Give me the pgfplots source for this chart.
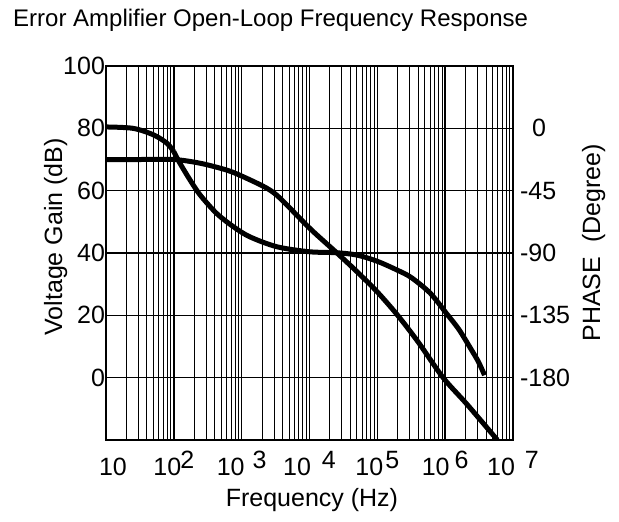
\documentclass[border=0pt]{standalone}
\usepackage{pgfplots}
\pgfplotsset{compat=1.18}
\usepackage{pgfplotstable}
\usepackage{fontspec}
\setmainfont{Liberation Sans}

% gain in dB
\pgfplotstableread{
f       g
10      70
31.6    70
100     70
245     68.8
603     66.6
1047    64.5
2344    60.8
3715    57.5
10233   47.8
25119   40.1
50119   34
100000  27.5
199526  20
398107  11.5
933254  0
2089296 -8.5
5888437 -20
}\gaintable

% phase in degrees, two pieces (kink near 100 Hz)
\pgfplotstableread{
f     p
10    1
25.1  0
50.1  -4.7
79.4  -10.8
100   -16.9
}\phaseA

\pgfplotstableread{
f       p
100     -16.9
123     -25.2
174     -37.4
245     -48.2
427     -61.4
759     -71.1
1318    -78.3
3311    -85.5
10000   -89.1
25119   -89.8
50119   -91.5
100000  -96
199526  -102.5
316228  -107.7
602560  -119
1047129 -133.7
1584893 -145
2344229 -158.5
3090295 -168.5
3801894 -178.2
}\phaseB

\newcommand\ex[2]{10\hspace{#1}\raisebox{3.5pt}{#2}}

\begin{document}
\begin{tikzpicture}
\pgfplotsset{
  every axis/.append style={
    width=203.5pt, height=187pt, scale only axis,
    at={(0,0)}, anchor=south west,
    xmode=log, xmin=10, xmax=1e7,
    major tick length=0pt, minor tick length=0pt,
    tick label style={font=\fontsize{12.5}{12.5}\selectfont},
    label style={font=\fontsize{12.5}{12.5}\selectfont, inner sep=0pt},
  },
}
\begin{axis}[
  name=main,
  ymin=-20, ymax=100,
  xtick={10,100,1000,10000,100000,1000000,10000000},
  xticklabels={\hspace*{7pt}10,\ex{-0.5pt}{2},\ex{4pt}{3},\ex{5.5pt}{4},\ex{1pt}{5},\ex{2.5pt}{6},\ex{5pt}{7}},
  minor xtick={20,30,40,50,60,70,80,90,
    200,300,400,500,600,700,800,900,
    2000,3000,4000,5000,6000,7000,8000,9000,
    20000,30000,40000,50000,60000,70000,80000,90000,
    200000,300000,400000,500000,600000,700000,800000,900000,
    2000000,3000000,4000000,5000000,6000000,7000000,8000000,9000000},
  ytick={0,20,40,60,80,100},
  yticklabels={0,20,40,60,80,100},
  xticklabel style={anchor=base, yshift=-17.5pt},
  yticklabel style={xshift=3pt},
  xmajorgrids, xminorgrids, ymajorgrids,
  major grid style={black, line width=0.75pt},
  minor grid style={black, line width=0.5pt},
  axis line style={black, line width=0.6pt},
  title={Error Amplifier Open-Loop Frequency Response},
  title style={font=\fontsize{12}{12}\selectfont, inner sep=0pt, yshift=-6pt,
    anchor=base west, at={(axis description cs:-0.229,1.105)}},
  xlabel={Frequency (Hz)},
  xlabel style={anchor=base, at={(axis description cs:0.506,-0.178)}},
  ylabel={Voltage Gain (dB)},
  ylabel style={anchor=base, at={(axis description cs:-0.108,0.543)}},
]
\addplot[black, line width=2.5pt, smooth] table[x=f, y=g] {\gaintable};
\end{axis}
\begin{axis}[
  axis x line=none, axis y line*=right,
  ymin=-225, ymax=45,
  ytick={-180,-135,-90,-45,0},
  yticklabels={-180,-135,-90,-45,\hspace*{6pt}0},
  axis line style={black, line width=0.6pt},
  ylabel={PHASE\ \ (Degree)},
  ylabel style={anchor=base, at={(axis description cs:1.214,0.527)}},
]
\addplot[black, line width=2.5pt, smooth] table[x=f, y=p] {\phaseA};
\addplot[black, line width=2.5pt, smooth] table[x=f, y=p] {\phaseB};
\end{axis}
\path[use as bounding box] ([xshift=-53pt, yshift=-40.5pt]main.south west)
  rectangle ([xshift=53pt, yshift=33pt]main.north east);
\end{tikzpicture}
\end{document}
